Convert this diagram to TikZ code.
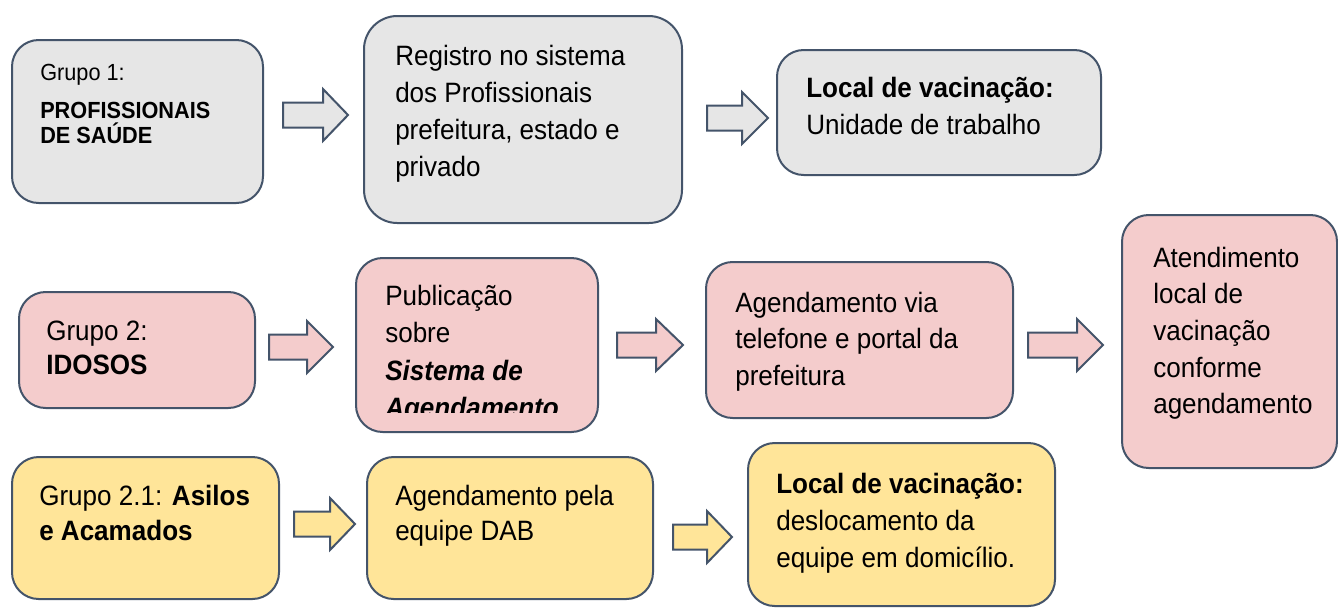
\documentclass[tikz,border=0pt]{standalone}
\usepackage{fontspec}
\setmainfont{Liberation Sans}[FakeStretch=0.93]
\usetikzlibrary{fit}
\definecolor{edgec}{HTML}{44546A}
\definecolor{grayf}{HTML}{E6E6E6}
\definecolor{pinkf}{HTML}{F4CCCC}
\definecolor{yellowf}{HTML}{FFE599}
\tikzset{
  box/.style={draw=edgec, line width=1.5pt, inner sep=0pt, rounded corners=20pt},
  txt/.style={anchor=base west, inner sep=0pt, font=\fontsize{21}{25}\selectfont},
  stxt/.style={anchor=base west, inner sep=0pt, font=\fontsize{17.5}{20}\selectfont},
  barrow/.style={draw=edgec, line width=1.5pt, line join=miter}
}
\newcommand\blockarr[5]{%
  \draw[barrow, fill=#1] (#2,#5-12.5) -- (#3,#5-12.5) -- (#3,#5-26) -- (#4,#5) -- (#3,#5+26) -- (#3,#5+12.5) -- (#2,#5+12.5) -- cycle;}
\begin{document}
\begin{tikzpicture}[x=0.75pt, y=-0.75pt]
\useasboundingbox (0,0) rectangle (1338,608);
\fill[white] (0,0) rectangle (1338,608);
% row 1
\node[box, fill=grayf, fit={(12,40)(263,203)}] (b1) {};
\node[box, fill=grayf, rounded corners=25pt, fit={(364,16)(682,223)}] (b2) {};
\node[box, fill=grayf, fit={(777,50)(1101,175)}] (b3) {};
\blockarr{grayf}{283}{323}{348}{115}
\blockarr{grayf}{707}{742}{768}{118}
% row 2
\node[box, fill=pinkf, fit={(19,292)(255,408)}] (b4) {};
\node[box, fill=pinkf, fit={(356,258)(598,432)}] (b5) {};
\node[box, fill=pinkf, fit={(706,262)(1013,418)}] (b6) {};
\node[box, fill=pinkf, fit={(1122,215)(1337,468)}] (b7) {};
\blockarr{pinkf}{269}{307}{333}{347}
\blockarr{pinkf}{617}{656}{683}{345}
\blockarr{pinkf}{1028}{1077}{1103}{345}
% row 3
\node[box, fill=yellowf, fit={(12,457)(279,599)}] (b8) {};
\node[box, fill=yellowf, fit={(367,457)(653,599)}] (b9) {};
\node[box, fill=yellowf, fit={(748,443)(1055,606)}] (b10) {};
\blockarr{yellowf}{294}{330}{355}{524}
\blockarr{yellowf}{673}{707}{732}{537}
% texts
\node[stxt] (t1a) at (40,80) {Grupo 1:};
\node[stxt, font=\fontsize{17.5}{20}\selectfont\bfseries] (t1b) at (40,118) {PROFISSIONAIS};
\node[stxt, font=\fontsize{17.5}{20}\selectfont\bfseries] (t1c) at (40,143) {DE SAÚDE};
\node[txt] (t2a) at (395,65) {Registro no sistema};
\node[txt] (t2b) at (395,102) {dos Profissionais};
\node[txt] (t2c) at (395,139) {prefeitura, estado e};
\node[txt] (t2d) at (395,176) {privado};
\node[txt, font=\fontsize{21}{25}\selectfont\bfseries] (t3a) at (806,97) {Local de vacinação:};
\node[txt] (t3b) at (806,134) {Unidade de trabalho};
\node[txt] (t4a) at (46,340) {Grupo 2:};
\node[txt, font=\fontsize{21}{25}\selectfont\bfseries] (t4b) at (46,374) {IDOSOS};
\begin{scope}
\clip (356,258) rectangle (598,412);
\node[txt] (t5a) at (385,305) {Publicação};
\node[txt] (t5b) at (385,342) {sobre};
\node[txt, font=\fontsize{21}{25}\selectfont\bfseries\itshape] (t5c) at (385,380) {Sistema de};
\node[txt, font=\fontsize{21}{25}\selectfont\bfseries\itshape] (t5d) at (385,417) {Agendamento};
\end{scope}
\node[txt] (t6a) at (735,312) {Agendamento via};
\node[txt] (t6b) at (735,348) {telefone e portal da};
\node[txt] (t6c) at (735,385) {prefeitura};
\node[txt] (t7a) at (1153,267) {Atendimento};
\node[txt] (t7b) at (1153,303) {local de};
\node[txt] (t7c) at (1153,340) {vacinação};
\node[txt] (t7d) at (1153,377) {conforme};
\node[txt] (t7e) at (1153,413) {agendamento};
\node[txt] (t8a) at (39,505) {Grupo 2.1: \textbf{Asilos}};
\node[txt, font=\fontsize{21}{25}\selectfont\bfseries] (t8b) at (39,540) {e Acamados};
\node[txt] (t9a) at (395,505) {Agendamento pela};
\node[txt] (t9b) at (395,540) {equipe DAB};
\node[txt, font=\fontsize{21}{25}\selectfont\bfseries] (t10a) at (776,493) {Local de vacinação:};
\node[txt] (t10b) at (776,530) {deslocamento da};
\node[txt] (t10c) at (776,567) {equipe em domicílio.};
\end{tikzpicture}
\end{document}
